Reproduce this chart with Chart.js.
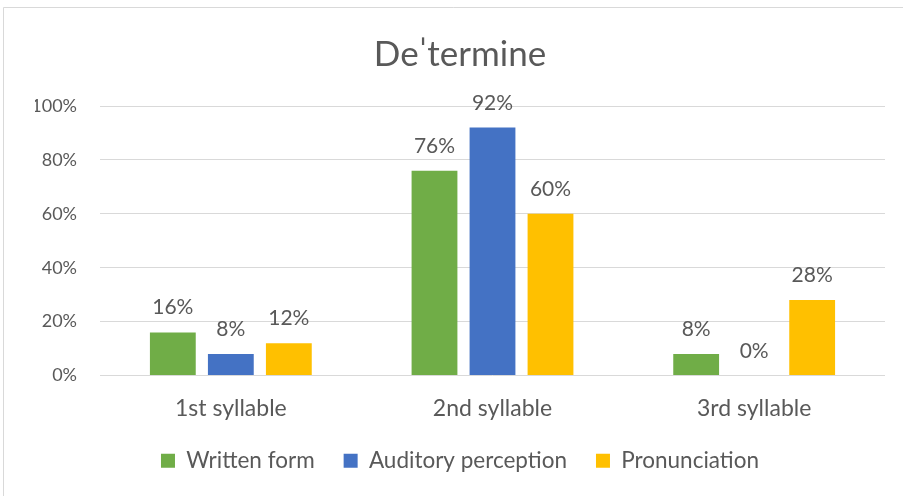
<!DOCTYPE html>
<html>
<head>
<meta charset="utf-8">
<script src="https://cdn.jsdelivr.net/npm/chart.js@4.4.1/dist/chart.umd.min.js"></script>
<style>
  html, body { margin: 0; padding: 0; background: #fff; }
  #wrap { position: relative; width: 903px; height: 496px; }
</style>
</head>
<body>
<div id="wrap"><canvas id="myChart" width="903" height="496"></canvas></div>
<script>
const categories = ["1st syllable", "2nd syllable", "3rd syllable"];
const writtenForm = [0.16, 0.76, 0.08];
const auditoryPerception = [0.08, 0.92, 0.0];
const pronunciation = [0.12, 0.60, 0.28];
const yTicks = [0, 0.2, 0.4, 0.6, 0.8, 1.0];

const textColor = "#595959";
const fontFamily = "Lato, 'Open Sans', sans-serif";

// chart frame (left + top edge only are visible)
const framePlugin = {
  id: "frame",
  beforeDraw(chart) {
    const ctx = chart.ctx;
    ctx.save();
    ctx.fillStyle = "#fff";
    ctx.fillRect(0, 0, chart.width, chart.height);
    ctx.strokeStyle = "#D9D9D9";
    ctx.lineWidth = 1;
    ctx.beginPath();
    ctx.moveTo(3.5, chart.height);
    ctx.lineTo(3.5, 7.5);
    ctx.lineTo(chart.width, 7.5);
    ctx.stroke();
    ctx.restore();
  },
};

// value labels above bars
const valueLabels = {
  id: "valueLabels",
  afterDatasetsDraw(chart) {
    const ctx = chart.ctx;
    ctx.save();
    ctx.fillStyle = textColor;
    ctx.font = "21px " + fontFamily;
    ctx.textAlign = "center";
    ctx.textBaseline = "alphabetic";
    chart.data.datasets.forEach((ds, i) => {
      chart.getDatasetMeta(i).data.forEach((bar, j) => {
        ctx.fillText(Math.round(ds.data[j] * 100) + "%", bar.x, bar.y - 18);
      });
    });
    ctx.restore();
  },
};

new Chart(document.getElementById("myChart"), {
  type: "bar",
  data: {
    labels: categories,
    datasets: [
      { label: "Written form", data: writtenForm, backgroundColor: "#70AD47" },
      { label: "Auditory perception", data: auditoryPerception, backgroundColor: "#4472C4" },
      { label: "Pronunciation", data: pronunciation, backgroundColor: "#FFC000" },
    ],
  },
  options: {
    responsive: false,
    animation: false,
    devicePixelRatio: 1,
    // chart is wider than the window on the right, so title/legend sit right of centre
    layout: { padding: { left: 35, right: 18, top: 0, bottom: 14 } },
    datasets: { bar: { categoryPercentage: 0.665, barPercentage: 0.79 } },
    plugins: {
      title: {
        display: true,
        text: "De\u02C8termine",
        color: textColor,
        font: { family: fontFamily, size: 35, weight: "normal" },
        padding: { top: 34, bottom: 30 },
      },
      legend: {
        position: "bottom",
        labels: {
          color: textColor,
          font: { family: fontFamily, size: 22.5 },
          boxWidth: 14,
          boxHeight: 14,
          padding: 29,
        },
      },
      tooltip: { enabled: false },
    },
    scales: {
      x: {
        grid: { display: false },
        border: { display: false },
        ticks: { color: textColor, font: { family: fontFamily, size: 23, lineHeight: 1 }, padding: 14 },
        afterFit(scale) { scale.height = 45; },
      },
      y: {
        min: 0,
        max: 1,
        afterBuildTicks(scale) { scale.ticks = yTicks.map(v => ({ value: v })); },
        afterFit(scale) { scale.width = 65; },
        grid: { color: "#D9D9D9", drawTicks: false },
        border: { display: false },
        ticks: {
          color: textColor,
          font: { family: fontFamily, size: 18 },
          padding: 23,
          callback: v => Math.round(v * 100) + "%",
        },
      },
    },
  },
  plugins: [framePlugin, valueLabels],
});
</script>
</body>
</html>
